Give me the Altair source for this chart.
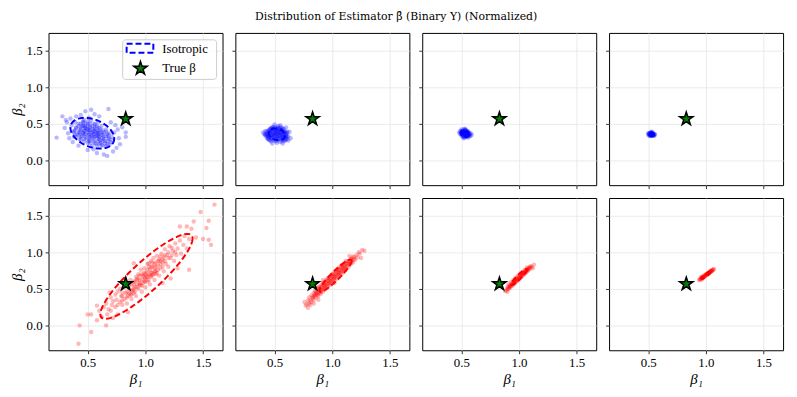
import altair as alt
import pandas as pd
import numpy as np

TITLE = "Distribution of Estimator β̂ (Binary Y) (Normalized)"
TRUE_B1 = [0.83]
TRUE_B2 = [0.565]
X_TICKS = [0.5, 1.0, 1.5]
Y_TICKS = [0.0, 0.5, 1.0, 1.5]
X_DOMAIN = [0.16, 1.67]
Y_DOMAIN = [-0.34, 1.74]
LEGEND_LABELS = ["Isotropic", "True β"]

# top row (blue) point clouds: (beta1, beta2)
P1 = [(0.40,0.45),(0.42,0.50),(0.43,0.38),(0.44,0.42),(0.45,0.47),(0.45,0.33),(0.46,0.52),(0.47,0.40),
      (0.48,0.36),(0.48,0.45),(0.49,0.30),(0.50,0.50),(0.50,0.41),(0.51,0.35),(0.52,0.46),(0.52,0.27),
      (0.53,0.38),(0.53,0.54),(0.54,0.31),(0.55,0.43),(0.55,0.36),(0.56,0.49),(0.56,0.24),(0.57,0.33),
      (0.57,0.40),(0.58,0.29),(0.58,0.45),(0.59,0.37),(0.60,0.22),(0.60,0.32),(0.61,0.42),(0.61,0.27),
      (0.62,0.35),(0.63,0.30),(0.63,0.20),(0.64,0.38),(0.65,0.26),(0.66,0.33),(0.67,0.22),(0.68,0.29),
      (0.70,0.25),(0.71,0.32),(0.44,0.28),(0.41,0.35),(0.38,0.40),(0.47,0.55),(0.51,0.58),(0.59,0.52),
      (0.54,0.20),(0.50,0.24),(0.66,0.42),(0.69,0.37),(0.62,0.47),(0.36,0.48),(0.39,0.52),(0.55,0.15),
      (0.46,0.37),(0.49,0.43),(0.53,0.33),(0.56,0.39),(0.58,0.34),(0.52,0.41),(0.47,0.47),(0.60,0.38),
      (0.58,0.20),(0.62,0.21),(0.66,0.19),(0.52,0.23),(0.57,0.23),(0.61,0.24),(0.65,0.23),(0.69,0.22),
      (0.47,0.26),(0.51,0.26),(0.55,0.26),(0.59,0.26),(0.63,0.26),(0.67,0.26),(0.70,0.28),
      (0.43,0.29),(0.47,0.29),(0.51,0.29),(0.55,0.29),(0.60,0.29),(0.64,0.29),(0.68,0.31),
      (0.40,0.32),(0.44,0.32),(0.48,0.32),(0.52,0.32),(0.56,0.32),(0.60,0.32),(0.64,0.32),(0.68,0.34),
      (0.39,0.35),(0.43,0.35),(0.47,0.35),(0.51,0.35),(0.55,0.35),(0.59,0.35),(0.63,0.35),(0.67,0.36),
      (0.38,0.38),(0.42,0.38),(0.46,0.38),(0.50,0.38),(0.54,0.38),(0.58,0.38),(0.62,0.38),(0.66,0.39),
      (0.39,0.41),(0.43,0.41),(0.47,0.41),(0.51,0.41),(0.55,0.41),(0.59,0.41),(0.63,0.41),
      (0.40,0.44),(0.44,0.44),(0.48,0.44),(0.52,0.44),(0.56,0.44),(0.60,0.44),
      (0.42,0.47),(0.46,0.47),(0.50,0.47),(0.54,0.47),(0.58,0.47),
      (0.44,0.50),(0.48,0.50),(0.52,0.50),(0.56,0.50),(0.46,0.53),(0.50,0.53),
      (0.23,0.31),(0.28,0.60),(0.30,0.44),(0.32,0.52),(0.33,0.37),(0.35,0.57),(0.31,0.55),(0.34,0.30),
      (0.37,0.25),(0.40,0.60),(0.44,0.62),(0.48,0.67),(0.53,0.69),(0.56,0.63),(0.60,0.60),(0.68,0.70),
      (0.74,0.48),(0.76,0.42),(0.78,0.22),(0.75,0.17),(0.72,0.12),(0.67,0.06),(0.64,0.08),(0.58,0.10),
      (0.83,0.38),(0.83,0.32),(0.80,0.45),(0.77,0.30),(0.73,0.38),(0.50,0.14),(0.42,0.20),(0.38,0.32),
      (0.70,0.52)]
P2 = [(0.47,0.26),(0.51,0.26),(0.55,0.25),(0.58,0.26),(0.45,0.28),(0.49,0.28),(0.53,0.29),(0.57,0.28),
      (0.60,0.28),(0.44,0.30),(0.47,0.31),(0.50,0.30),(0.54,0.30),(0.56,0.31),(0.59,0.30),(0.43,0.32),
      (0.46,0.32),(0.49,0.33),(0.52,0.32),(0.55,0.33),(0.58,0.32),(0.61,0.32),(0.44,0.34),(0.47,0.34),
      (0.50,0.35),(0.53,0.34),(0.56,0.35),(0.59,0.34),(0.43,0.36),(0.46,0.37),(0.49,0.36),(0.52,0.36),
      (0.55,0.37),(0.58,0.36),(0.61,0.37),(0.45,0.38),(0.48,0.39),(0.51,0.38),(0.54,0.38),(0.57,0.39),
      (0.60,0.38),(0.44,0.40),(0.47,0.40),(0.50,0.41),(0.53,0.40),(0.56,0.41),(0.59,0.40),(0.46,0.42),
      (0.49,0.43),(0.52,0.42),(0.55,0.42),(0.58,0.43),(0.47,0.44),(0.50,0.45),(0.53,0.44),(0.56,0.45),
      (0.49,0.46),(0.53,0.47),
      (0.46,0.27),(0.50,0.27),(0.53,0.27),(0.56,0.27),(0.59,0.27),
      (0.44,0.29),(0.47,0.29),(0.51,0.29),(0.55,0.29),(0.58,0.29),(0.61,0.29),
      (0.45,0.31),(0.48,0.31),(0.52,0.31),(0.57,0.31),(0.60,0.31),
      (0.44,0.33),(0.48,0.33),(0.51,0.33),(0.54,0.33),(0.57,0.33),(0.60,0.33),
      (0.42,0.35),(0.45,0.35),(0.48,0.35),(0.51,0.35),(0.54,0.35),(0.57,0.35),(0.60,0.35),
      (0.44,0.37),(0.47,0.37),(0.50,0.37),(0.53,0.37),(0.56,0.37),(0.59,0.37),
      (0.43,0.39),(0.46,0.39),(0.50,0.39),(0.52,0.39),(0.55,0.39),(0.58,0.39),(0.61,0.39),
      (0.45,0.41),(0.48,0.41),(0.51,0.41),(0.54,0.41),(0.57,0.41),
      (0.46,0.43),(0.48,0.43),(0.51,0.43),(0.54,0.43),(0.57,0.43),
      (0.48,0.45),(0.52,0.45),(0.55,0.45),
      (0.40,0.38),(0.41,0.36),(0.62,0.27),(0.63,0.39),(0.64,0.30),(0.50,0.49),
      (0.55,0.48),(0.48,0.23),(0.57,0.23),(0.42,0.40),(0.60,0.45),(0.62,0.33),(0.42,0.34),(0.52,0.24)]
P3 = [(0.50,0.34),(0.50,0.38),(0.51,0.32),(0.51,0.36),(0.51,0.40),(0.52,0.34),(0.52,0.38),(0.52,0.42),
      (0.53,0.31),(0.53,0.35),(0.53,0.39),(0.54,0.33),(0.54,0.37),(0.54,0.41),(0.55,0.32),(0.55,0.36),
      (0.55,0.39),(0.56,0.34),(0.56,0.37),(0.57,0.35),(0.49,0.36),(0.49,0.40),(0.48,0.38),(0.58,0.33),
      (0.58,0.37),(0.53,0.43),(0.52,0.30),(0.56,0.31),(0.50,0.42),(0.59,0.35),
      (0.50,0.36),(0.505,0.40),(0.51,0.34),(0.51,0.38),(0.52,0.32),(0.52,0.36),(0.52,0.40),(0.53,0.33),
      (0.53,0.37),(0.53,0.41),(0.54,0.35),(0.54,0.39),(0.55,0.34),(0.55,0.38),(0.56,0.36),(0.56,0.39),
      (0.57,0.33),(0.57,0.37),(0.515,0.35),(0.525,0.39),(0.535,0.36),(0.545,0.38),(0.545,0.32),
      (0.555,0.40),(0.505,0.37),(0.565,0.35),(0.535,0.42),(0.495,0.38)]
P4 = [(0.50,0.35),(0.51,0.33),(0.51,0.37),(0.52,0.34),(0.52,0.36),(0.52,0.38),(0.53,0.33),(0.53,0.35),
      (0.53,0.37),(0.54,0.34),(0.54,0.36),(0.55,0.35),(0.55,0.33),(0.50,0.37),(0.56,0.35),(0.53,0.39),
      (0.51,0.35),(0.52,0.35),(0.53,0.34),(0.53,0.36),(0.54,0.35),(0.52,0.37),(0.54,0.37),(0.515,0.34),
      (0.525,0.36),(0.535,0.38),(0.545,0.34),(0.525,0.33),(0.505,0.36),(0.555,0.36),(0.535,0.35),
      (0.515,0.37),(0.545,0.36),(0.525,0.38)]

# bottom row (red) point clouds
P5 = [(0.62,0.12),(0.64,0.25),(0.66,0.30),(0.67,0.15),(0.68,0.22),(0.70,0.20),(0.70,0.38),(0.71,0.28),
      (0.72,0.33),(0.74,0.25),(0.74,0.42),(0.75,0.35),(0.76,0.28),(0.76,0.46),(0.78,0.32),(0.78,0.50),
      (0.79,0.40),(0.80,0.28),(0.80,0.45),(0.82,0.36),(0.82,0.52),(0.83,0.44),(0.84,0.30),(0.84,0.58),
      (0.85,0.40),(0.85,0.18),(0.86,0.50),(0.87,0.42),(0.87,0.62),(0.88,0.55),(0.88,0.36),(0.89,0.48),
      (0.90,0.60),(0.90,0.44),(0.91,0.52),(0.92,0.66),(0.92,0.40),(0.93,0.56),(0.94,0.50),(0.94,0.70),
      (0.95,0.62),(0.96,0.55),(0.96,0.76),(0.97,0.46),(0.98,0.68),(0.98,0.58),(0.99,0.78),(1.00,0.64),
      (1.00,0.52),(1.01,0.72),(1.02,0.60),(1.02,0.84),(1.03,0.70),(1.04,0.76),(1.04,0.56),(1.05,0.88),
      (1.05,0.66),(1.06,0.80),(1.07,0.70),(1.07,0.92),(1.08,0.62),(1.08,0.78),(1.09,0.86),(1.10,0.72),
      (1.10,0.95),(1.11,0.82),(1.12,0.68),(1.12,0.90),(1.13,0.78),(1.14,0.98),(1.15,0.86),(1.16,0.74),
      (1.16,0.93),(1.17,1.04),(1.18,0.84),(1.19,0.96),(1.20,0.80),(1.21,1.08),(1.22,0.64),(1.22,0.92),
      (1.24,1.02),(1.25,0.88),(1.26,1.12),(1.27,0.96),(1.28,1.05),(1.30,1.16),(1.31,0.98),(1.33,1.10),
      (1.34,1.22),(1.36,1.05),(1.38,1.18),(1.38,0.76),(0.97,0.70),(1.03,0.80),(1.06,0.72),(0.93,0.62),
      (1.09,0.74),(1.13,0.88),(0.99,0.60),(1.01,0.66),(1.04,0.68),(0.95,0.56),
      (0.80,0.40),(0.80,0.34),(0.84,0.46),(0.84,0.38),(0.86,0.44),(0.86,0.56),(0.88,0.47),(0.88,0.42),
      (0.90,0.50),(0.90,0.56),(0.91,0.46),(0.91,0.60),(0.93,0.52),(0.93,0.64),(0.95,0.58),(0.95,0.68),
      (0.97,0.54),(0.97,0.63),(0.99,0.66),(0.99,0.72),(1.00,0.60),(1.00,0.70),(1.02,0.66),(1.02,0.76),
      (1.03,0.62),(1.03,0.85),(1.05,0.72),(1.05,0.80),(1.06,0.68),(1.06,0.86),(1.08,0.74),(1.08,0.84),
      (1.09,0.80),(1.09,0.70),(1.11,0.76),(1.11,0.88),(1.13,0.84),(1.13,0.94),(1.15,0.80),(1.15,0.90),
      (1.17,0.88),(1.17,0.96),(1.20,0.92),(1.20,1.00),(1.23,0.96),(1.23,1.06),(1.26,1.00),
      (1.36,1.35),(1.40,1.32),(1.42,1.42),(1.44,1.20),(1.48,1.55),(1.50,1.18),(1.53,1.33),(1.55,1.43),
      (1.55,1.17),(1.57,1.10),(1.60,1.65),(0.42,-0.25),(0.43,0.00),(0.50,0.15),(0.53,0.15),(0.53,-0.09),
      (0.58,0.07),(0.58,0.27),(0.66,0.00),(0.60,0.20),(0.69,0.45),(0.72,0.10),(0.76,0.15),(1.28,0.78),
      (1.30,1.35),(0.90,0.85),(1.15,0.58)]
P6 = [(0.78,0.29),(0.79,0.34),(0.80,0.30),(0.80,0.38),(0.81,0.34),(0.82,0.32),(0.82,0.41),(0.83,0.37),
      (0.84,0.35),(0.84,0.44),(0.85,0.40),(0.85,0.47),(0.86,0.38),(0.86,0.46),(0.87,0.42),(0.87,0.50),
      (0.88,0.40),(0.88,0.49),(0.89,0.45),(0.89,0.53),(0.90,0.43),(0.90,0.52),(0.91,0.48),(0.91,0.56),
      (0.92,0.46),(0.92,0.55),(0.93,0.51),(0.93,0.59),(0.94,0.49),(0.94,0.58),(0.95,0.54),(0.95,0.62),
      (0.96,0.52),(0.96,0.61),(0.97,0.57),(0.97,0.65),(0.98,0.55),(0.98,0.64),(0.99,0.60),(0.99,0.68),
      (1.00,0.58),(1.00,0.67),(1.01,0.63),(1.01,0.71),(1.02,0.61),(1.02,0.70),(1.03,0.66),(1.03,0.74),
      (1.04,0.64),(1.04,0.73),(1.05,0.69),(1.05,0.77),(1.06,0.67),(1.06,0.76),(1.07,0.72),(1.07,0.80),
      (1.08,0.70),(1.08,0.79),(1.09,0.75),(1.09,0.83),(1.10,0.73),(1.10,0.82),(1.11,0.78),(1.11,0.86),
      (1.12,0.76),(1.12,0.85),(1.13,0.81),(1.14,0.79),(1.14,0.88),(1.15,0.84),(1.16,0.83),(1.16,0.91),
      (1.17,0.87),(1.18,0.86),(1.18,0.94),(1.19,0.90),(1.20,0.90),(1.21,0.96),(1.22,0.93),
      (0.83,0.38),(0.85,0.42),(0.87,0.45),(0.89,0.49),(0.91,0.52),(0.93,0.55),(0.95,0.58),(0.97,0.61),
      (0.99,0.64),(1.01,0.67),(1.03,0.70),(1.05,0.73),(1.07,0.76),(1.09,0.79),(1.11,0.82),(1.13,0.85),
      (1.15,0.88),(1.17,0.91),(1.19,0.93),(0.84,0.40),(0.86,0.43),(0.88,0.44),(0.90,0.48),(0.92,0.50),
      (0.94,0.54),(0.96,0.56),(0.98,0.60),(1.00,0.62),(1.02,0.66),(1.04,0.68),(1.06,0.72),(1.08,0.74),
      (1.10,0.78),(1.12,0.80),(1.14,0.84),(1.16,0.86),(0.88,0.52),(0.92,0.58),(0.96,0.64),(1.00,0.70),
      (1.04,0.76),(1.08,0.82),(1.12,0.88),(0.90,0.46),(0.94,0.52),(0.98,0.58),(1.02,0.64),(1.06,0.70),
      (1.10,0.76),
      (1.24,0.98),(1.26,1.03),(1.28,1.02),(1.23,1.00),(0.77,0.27),(0.79,0.24),(0.81,0.28),(0.84,0.30),
      (0.88,0.35),(0.76,0.32),(1.25,0.92),(0.92,0.62),(1.15,0.95),(1.02,0.58)]
P7 = [(0.89,0.48),(0.90,0.52),(0.91,0.50),(0.91,0.56),(0.92,0.53),(0.93,0.53),(0.93,0.59),(0.94,0.56),
      (0.95,0.56),(0.95,0.62),(0.96,0.59),(0.97,0.59),(0.97,0.65),(0.98,0.62),(0.99,0.62),(0.99,0.68),
      (1.00,0.65),(1.01,0.65),(1.01,0.71),(1.02,0.68),(1.03,0.68),(1.03,0.73),(1.04,0.71),(1.05,0.71),
      (1.05,0.76),(1.06,0.74),(1.07,0.74),(1.07,0.79),(1.08,0.77),(1.09,0.77),(1.10,0.81),(1.11,0.80),
      (0.90,0.50),(0.91,0.52),(0.92,0.54),(0.92,0.51),(0.93,0.56),(0.94,0.57),(0.94,0.54),(0.95,0.59),
      (0.96,0.60),(0.96,0.57),(0.97,0.62),(0.98,0.63),(0.98,0.60),(0.99,0.65),(1.00,0.66),(1.00,0.63),
      (1.01,0.68),(1.02,0.69),(1.02,0.66),(1.03,0.70),(1.04,0.72),(1.04,0.69),(1.05,0.73),(1.06,0.75),
      (1.06,0.72),(1.07,0.76),(1.08,0.78),(1.08,0.75),(1.09,0.79),(1.10,0.79),(0.95,0.57),(1.03,0.71),
      (0.97,0.61),(1.05,0.74),
      (1.13,0.83),(0.88,0.47),(0.90,0.46),(1.12,0.78)]
P8 = [(0.94,0.62),(0.95,0.63),(0.96,0.64),(0.96,0.66),(0.97,0.65),(0.98,0.66),(0.98,0.68),(0.99,0.67),
      (1.00,0.68),(1.00,0.70),(1.01,0.69),(1.02,0.71),(1.02,0.72),(1.03,0.72),(1.04,0.73),(1.04,0.75),
      (1.05,0.74),(1.06,0.76),(1.07,0.77),(0.97,0.63),
      (0.95,0.625),(0.96,0.645),(0.97,0.655),(0.975,0.66),(0.985,0.67),(0.99,0.675),(0.995,0.685),
      (1.005,0.69),(1.01,0.70),(1.015,0.705),(1.025,0.71),(1.03,0.72),(1.035,0.73),(1.045,0.74),
      (1.05,0.745),(1.055,0.75),(1.065,0.76),(0.965,0.65),(1.02,0.70),(1.04,0.735)]

# dashed covariance ellipses: centre b1, centre b2, half-extent b1, half-extent b2, correlation
ELLIPSES = [(0.54, 0.37, 0.19, 0.21, -0.35), (0.52, 0.355, 0.07, 0.08, -0.2),
            (0.53, 0.365, 0.035, 0.045, -0.2), (0.53, 0.355, 0.02, 0.025, -0.2),
            (1.01, 0.67, 0.40, 0.58, 0.89), (1.03, 0.68, 0.14, 0.22, 0.93),
            (1.00, 0.66, 0.07, 0.11, 0.93), (1.005, 0.69, 0.04, 0.055, 0.93)]
CLOUDS = [P1, P2, P3, P4, P5, P6, P7, P8]
COLORS = ["#0000ff", "#ff0000"]

STAR = ("M0,-1 L0.2245,-0.309 L0.951,-0.309 L0.363,0.118 L0.588,0.809 L0,0.382 "
        "L-0.588,0.809 L-0.363,0.118 L-0.951,-0.309 L-0.2245,-0.309 Z")
FONT = "Liberation Serif"


def ellipse_df(e):
    cx, cy, sx, sy, rho = e
    t = np.linspace(0, 2 * np.pi, 121)
    d = np.arccos(rho)
    return pd.DataFrame({"b1": cx + sx * np.cos(t), "b2": cy + sy * np.cos(t + d), "i": np.arange(len(t))})


def panel(k):
    row, col = divmod(k, 4)
    color = COLORS[row]
    xa = alt.Axis(values=X_TICKS, format=".1f", labels=(row == 1),
                  title=("β₁" if row == 1 else None))
    ya = alt.Axis(values=Y_TICKS, format=".1f", labels=(col == 0),
                  title=("β₂" if col == 0 else None))
    X = alt.X("b1:Q", scale=alt.Scale(domain=X_DOMAIN, nice=False, zero=False), axis=xa)
    Y = alt.Y("b2:Q", scale=alt.Scale(domain=Y_DOMAIN, nice=False, zero=False), axis=ya)
    pts = alt.Chart(pd.DataFrame(CLOUDS[k], columns=["b1", "b2"])).mark_circle(
        size=20, opacity=0.28, color=color, clip=True).encode(x=X, y=Y)
    ell = alt.Chart(ellipse_df(ELLIPSES[k])).mark_line(
        color=color, strokeDash=[6, 3], strokeWidth=2, clip=True).encode(x=X, y=Y, order="i:Q")
    star = alt.Chart(pd.DataFrame({"b1": TRUE_B1, "b2": TRUE_B2})).mark_point(
        shape=STAR, size=200, filled=True, fill="#008000", stroke="black",
        strokeWidth=1.5, opacity=1).encode(x=X, y=Y)
    layers = [pts, ell, star]
    if k == 0:
        one = pd.DataFrame({"k": [0]})
        box = alt.Chart(one).mark_rect(fill="white", fillOpacity=0.85, stroke="#cccccc",
                                       strokeWidth=1, cornerRadius=3).encode(
            x=alt.value(75), x2=alt.value(170), y=alt.value(7), y2=alt.value(47))
        sym = alt.Chart(one).mark_rect(fillOpacity=0, stroke=COLORS[0], strokeWidth=2,
                                       strokeDash=[6, 3]).encode(
            x=alt.value(79), x2=alt.value(106), y=alt.value(11), y2=alt.value(20))
        lstar = alt.Chart(one).mark_point(shape=STAR, size=200, filled=True, fill="#008000",
                                          stroke="black", strokeWidth=1.5, opacity=1).encode(
            x=alt.value(93), y=alt.value(36))
        t1 = alt.Chart(one).mark_text(align="left", baseline="middle", font=FONT, fontSize=13,
                                      color="black").encode(
            x=alt.value(115), y=alt.value(16), text=alt.value(LEGEND_LABELS[0]))
        t2 = alt.Chart(one).mark_text(align="left", baseline="middle", font=FONT, fontSize=13,
                                      color="black").encode(
            x=alt.value(115), y=alt.value(36), text=alt.value(LEGEND_LABELS[1]))
        layers += [box, sym, lstar, t1, t2]
    return alt.layer(*layers).properties(width=176, height=154)


chart = alt.concat(*[panel(k) for k in range(8)], columns=4, spacing=13, bounds="flush").properties(
    title=alt.TitleParams(TITLE, font="DejaVu Serif", fontSize=11, fontWeight="normal", color="black",
                          anchor="middle", offset=11),
    padding={"left": 0, "top": 0, "right": 5, "bottom": 2},
).configure_view(stroke="black", strokeWidth=1).configure_axis(
    domain=False, tickColor="black", tickSize=3.5, tickWidth=0.8,
    labelFont=FONT, labelFontSize=13, labelColor="black", labelPadding=3,
    titleFont=FONT, titleFontSize=15, titleFontWeight="normal", titleFontStyle="italic",
    titleColor="black", titlePadding=2,
    grid=True, gridColor="#e6e6e6", gridWidth=0.8,
)

chart.save("out.html", embed_options={"renderer": "svg", "actions": False})
